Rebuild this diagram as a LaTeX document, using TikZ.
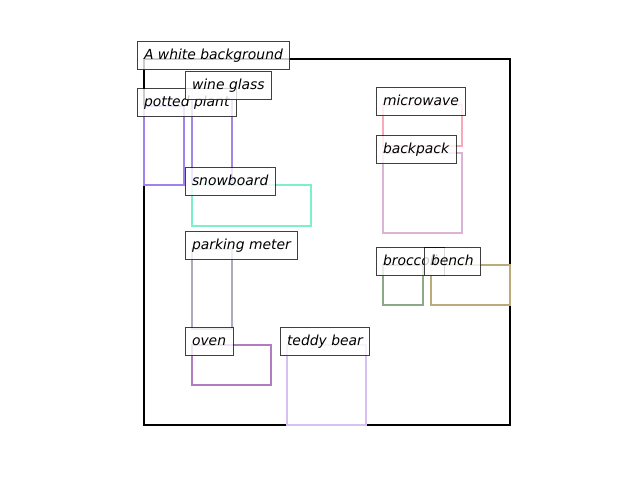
\documentclass[tikz,border=0pt]{standalone}
\usepackage{fontspec}
\setmainfont{DejaVu Sans}
\usepackage{tikz}

\definecolor{plant}{RGB}{160,130,238}
\definecolor{glass}{RGB}{163,136,234}
\definecolor{micro}{RGB}{248,170,186}
\definecolor{pack}{RGB}{218,180,212}
\definecolor{board}{RGB}{126,240,200}
\definecolor{meter}{RGB}{172,172,188}
\definecolor{oven}{RGB}{178,124,192}
\definecolor{teddy}{RGB}{216,192,242}
\definecolor{brocc}{RGB}{140,168,136}
\definecolor{bench}{RGB}{186,172,122}

\begin{document}
\begin{tikzpicture}[x=1pt,y=-1pt,
    region/.style={line width=2pt},
    tag/.style={anchor=text, fill=white, fill opacity=0.8, text opacity=1,
      draw=black, draw opacity=0.75, line width=1pt,
      inner xsep=7pt, inner ysep=7pt, text height=10.5pt, text depth=3.5pt,
      font=\fontsize{13.9}{16}\selectfont\itshape}]
  \useasboundingbox (0,0) rectangle (640,480);

  % frame and boxes
  \draw[line width=2pt] (144,59) rectangle (510,425);
  \foreach \x/\y/\xx/\yy/\c in {144/106/184/185/plant, 192/89/232/185/glass,
      383/105/462/146/micro, 383/153/462/233/pack, 192/185/311/226/board,
      192/249/232/329/meter, 383/265/423/305/brocc, 431/265/510/305/bench,
      192/345/271/385/oven, 287/345/366/425/teddy}
    {\draw[region,\c] (\x,\y) rectangle (\xx,\yy);};

  % labels
  \node[tag] (bg)     at (144,59)  {A white background};
  \node[tag] (plant)  at (144,106) {potted plant};
  \node[tag] (glass)  at (192,89)  {wine glass};
  \node[tag] (micro)  at (383,105) {microwave};
  \node[tag] (pack)   at (383,153) {backpack};
  \node[tag] (board)  at (192,185) {snowboard};
  \node[tag] (meter)  at (192,249) {parking meter};
  \node[tag] (brocc)  at (383,265) {broccoli};
  \node[tag] (bench)  at (431,265) {bench};
  \node[tag] (oven)   at (192,345) {oven};
  \node[tag] (teddy)  at (287,345) {teddy bear};
\end{tikzpicture}
\end{document}
